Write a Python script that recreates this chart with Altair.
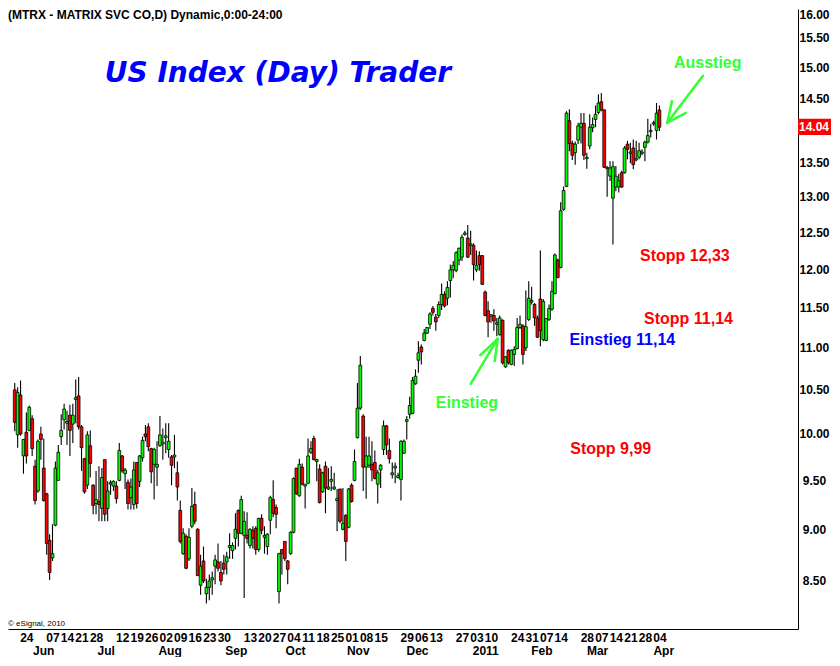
import json
import altair as alt
import pandas as pd

# ---------------- data ----------------
opens = [
    10.50, 9.99, 10.44, 9.76, 10.02, 10.04, 10.17, 9.65, 9.39, 10.00,
    9.63, 9.36, 8.89, 8.72, 9.04, 9.50, 9.97, 10.16, 10.12, 10.21,
    10.11, 10.39, 10.43, 10.08, 9.73, 9.45, 9.87, 9.45, 9.26, 9.28,
    9.21, 9.72, 9.21, 9.46, 9.44, 9.44, 9.50, 9.76, 9.57, 9.48,
    9.32, 9.25, 9.69, 9.49, 9.74, 10.00, 10.08, 9.84, 9.67, 9.64,
    9.87, 9.89, 9.96, 9.83, 9.75, 9.75, 9.58, 9.19, 8.76, 8.93,
    8.71, 9.03, 9.25, 9.00, 8.46, 8.69, 8.38, 8.44, 8.51, 8.64,
    8.68, 8.58, 8.67, 8.68, 8.82, 8.79, 8.91, 9.19, 8.96, 8.94,
    8.94, 8.84, 8.99, 9.01, 8.80, 9.11, 8.92, 8.83, 9.09, 9.30,
    9.22, 8.40, 8.80, 8.88, 8.69, 8.76, 8.97, 9.63, 9.34, 9.64,
    9.44, 9.47, 9.80, 9.95, 9.70, 9.62, 9.38, 9.65, 9.41, 9.49,
    9.41, 9.29, 9.41, 9.00, 9.14, 9.02, 9.45, 9.50, 9.96, 10.29,
    10.20, 9.64, 9.66, 9.67, 9.69, 9.46, 9.61, 9.83, 10.09, 9.82,
    9.56, 9.63, 9.53, 9.51, 9.79, 10.14, 10.22, 10.23, 10.57, 10.85,
    11.01, 11.09, 11.18, 11.29, 11.49, 11.38, 11.40, 11.54, 11.67, 11.62,
    11.85, 11.99, 11.98, 12.12, 12.16, 12.47, 12.42, 12.32, 12.32, 11.99,
    12.18, 12.18, 11.70, 11.46, 11.39, 11.40, 11.29, 11.16, 11.34, 10.77,
    10.97, 10.80, 10.92, 10.99, 11.25, 11.27, 11.00, 11.35, 11.57, 11.54,
    11.37, 11.61, 11.10, 11.09, 11.35, 11.48, 11.68, 12.12, 12.02, 12.82,
    13.15, 14.14, 13.79, 13.65, 13.84, 14.04, 14.10, 13.56, 13.75, 14.03,
    14.16, 14.27, 14.44, 14.31, 13.41, 13.30, 12.98, 13.14, 13.14, 13.35,
    13.35, 13.78, 13.64, 13.72, 13.54, 13.58, 13.64, 13.73, 13.81, 13.97,
    14.09, 13.99, 14.31,
]
highs = [
    10.58, 10.53, 10.61, 9.94, 10.24, 10.32, 10.21, 9.72, 9.94, 10.08,
    9.95, 9.37, 8.95, 9.05, 9.70, 9.88, 10.22, 10.34, 10.26, 10.33,
    10.34, 10.62, 10.65, 10.10, 9.74, 10.03, 10.04, 9.46, 9.60, 9.65,
    9.63, 9.72, 9.49, 9.50, 9.50, 9.49, 9.90, 9.77, 9.63, 9.51,
    9.52, 9.70, 9.69, 9.77, 9.97, 10.10, 10.12, 9.85, 9.85, 9.92,
    10.20, 10.06, 10.12, 10.12, 9.77, 9.99, 9.70, 9.29, 9.01, 8.95,
    9.01, 9.42, 9.38, 9.01, 8.75, 8.83, 8.52, 8.56, 8.59, 8.75,
    8.86, 8.69, 8.75, 8.78, 8.96, 8.87, 9.16, 9.20, 9.34, 9.18,
    9.17, 9.01, 9.03, 9.03, 9.11, 9.15, 9.03, 8.96, 9.34, 9.50,
    9.25, 8.77, 8.80, 8.88, 8.70, 8.98, 9.53, 9.63, 9.73, 9.68,
    9.46, 9.95, 9.92, 9.98, 9.73, 9.67, 9.59, 9.70, 9.63, 9.65,
    9.58, 9.41, 9.41, 9.42, 9.15, 9.42, 9.47, 9.83, 10.58, 10.90,
    10.22, 9.97, 9.97, 9.92, 9.82, 9.61, 9.67, 10.15, 10.10, 9.95,
    9.69, 9.69, 9.58, 9.93, 9.94, 10.20, 10.42, 10.65, 10.74, 11.08,
    11.04, 11.23, 11.25, 11.44, 11.52, 11.42, 11.58, 11.81, 11.71, 11.84,
    12.06, 12.11, 12.24, 12.29, 12.47, 12.52, 12.60, 12.52, 12.35, 12.25,
    12.24, 12.19, 11.72, 11.58, 11.42, 11.48, 11.37, 11.40, 11.35, 10.90,
    10.98, 10.98, 11.02, 11.37, 11.40, 11.29, 11.72, 11.84, 11.77, 11.56,
    11.40, 12.25, 11.61, 11.37, 11.54, 11.84, 12.21, 12.14, 12.92, 13.15,
    14.29, 14.32, 13.83, 13.82, 14.11, 14.26, 14.26, 13.65, 14.24, 14.19,
    14.38, 14.56, 14.58, 14.32, 13.45, 13.52, 13.52, 13.45, 13.33, 13.38,
    13.75, 13.83, 13.80, 13.85, 13.83, 13.80, 13.70, 13.83, 14.17, 14.09,
    14.14, 14.42, 14.38,
]
lows = [
    10.03, 9.85, 9.98, 9.57, 9.68, 10.03, 9.76, 9.25, 9.37, 9.72,
    9.28, 8.75, 8.51, 8.69, 9.03, 9.50, 9.88, 10.05, 9.88, 9.76,
    9.90, 10.12, 10.05, 9.60, 9.36, 9.41, 9.53, 9.15, 9.15, 9.08,
    9.08, 9.08, 9.08, 9.35, 9.39, 9.26, 9.49, 9.58, 9.41, 9.20,
    9.20, 9.20, 9.21, 9.43, 9.70, 9.92, 9.81, 9.47, 9.30, 9.44,
    9.86, 9.72, 9.79, 9.74, 9.45, 9.63, 9.29, 8.86, 8.75, 8.61,
    8.69, 9.01, 9.05, 8.55, 8.37, 8.48, 8.29, 8.32, 8.37, 8.47,
    8.59, 8.46, 8.56, 8.56, 8.71, 8.71, 8.80, 8.83, 8.95, 8.34,
    8.86, 8.81, 8.81, 8.75, 8.78, 8.95, 8.76, 8.75, 8.95, 9.12,
    9.01, 8.29, 8.56, 8.69, 8.47, 8.75, 8.96, 9.35, 9.33, 9.45,
    9.21, 9.46, 9.78, 9.71, 9.49, 9.26, 9.37, 9.16, 9.40, 9.39,
    9.40, 8.98, 9.06, 8.99, 8.69, 9.01, 9.27, 9.49, 9.95, 10.27,
    9.39, 9.31, 9.63, 9.49, 9.51, 9.26, 9.42, 9.77, 9.77, 9.68,
    9.52, 9.47, 9.52, 9.29, 9.78, 9.94, 10.17, 10.22, 10.56, 10.70,
    10.80, 11.08, 11.17, 11.23, 11.40, 11.21, 11.37, 11.47, 11.50, 11.53,
    11.63, 11.88, 11.96, 12.05, 12.11, 12.45, 12.15, 12.19, 11.85, 11.96,
    11.98, 11.79, 11.39, 11.13, 11.31, 11.21, 11.14, 11.15, 10.80, 10.76,
    10.80, 10.79, 10.78, 10.98, 11.23, 10.80, 10.96, 11.33, 11.54, 11.27,
    11.12, 11.02, 11.08, 11.08, 11.33, 11.46, 11.67, 11.88, 12.01, 12.80,
    13.14, 13.67, 13.54, 13.47, 13.78, 13.79, 13.54, 13.41, 13.70, 13.96,
    14.04, 14.24, 14.29, 13.42, 13.00, 13.23, 12.33, 13.08, 13.06, 13.13,
    13.34, 13.55, 13.49, 13.40, 13.52, 13.55, 13.61, 13.52, 13.79, 13.88,
    14.06, 13.85, 13.98,
]
closes = [
    10.13, 10.47, 10.00, 9.94, 9.76, 10.30, 9.84, 9.29, 9.92, 9.94,
    9.29, 8.86, 8.58, 8.76, 9.63, 9.80, 10.04, 10.28, 10.14, 10.04,
    10.21, 10.41, 10.08, 9.85, 9.38, 9.99, 9.68, 9.24, 9.30, 9.25,
    9.53, 9.15, 9.39, 9.48, 9.49, 9.31, 9.82, 9.60, 9.61, 9.26,
    9.43, 9.61, 9.26, 9.76, 9.93, 9.97, 9.86, 9.59, 9.83, 9.67,
    9.99, 9.91, 9.98, 9.92, 9.66, 9.77, 9.43, 8.88, 8.96, 8.62,
    8.92, 9.23, 9.08, 8.55, 8.64, 8.50, 8.44, 8.50, 8.53, 8.70,
    8.62, 8.50, 8.61, 8.73, 8.84, 8.84, 9.00, 8.96, 9.30, 9.08,
    8.91, 9.00, 8.91, 8.80, 9.11, 8.99, 8.94, 8.95, 9.32, 9.16,
    9.15, 8.76, 8.76, 8.71, 8.61, 8.97, 9.52, 9.36, 9.67, 9.46,
    9.46, 9.76, 9.84, 9.72, 9.72, 9.27, 9.58, 9.42, 9.43, 9.51,
    9.43, 9.31, 9.08, 9.06, 8.88, 9.41, 9.28, 9.70, 10.29, 10.79,
    9.64, 9.76, 9.76, 9.61, 9.52, 9.58, 9.66, 10.09, 9.88, 9.73,
    9.58, 9.65, 9.55, 9.92, 9.92, 10.16, 10.32, 10.61, 10.66, 10.94,
    10.95, 11.18, 11.25, 11.42, 11.44, 11.32, 11.54, 11.67, 11.52, 11.76,
    11.99, 12.05, 12.22, 12.28, 12.43, 12.49, 12.16, 12.34, 12.06, 12.05,
    12.06, 11.80, 11.40, 11.32, 11.41, 11.33, 11.31, 11.37, 10.82, 10.89,
    10.82, 10.97, 10.98, 11.25, 11.29, 10.92, 11.26, 11.62, 11.59, 11.37,
    11.13, 11.21, 11.58, 11.36, 11.49, 11.71, 12.19, 11.89, 12.80, 13.09,
    14.26, 13.79, 13.61, 13.78, 14.06, 14.10, 13.61, 13.58, 14.04, 14.08,
    14.24, 14.42, 14.31, 13.43, 13.43, 13.42, 13.44, 13.30, 13.23, 13.14,
    13.72, 13.70, 13.66, 13.47, 13.56, 13.68, 13.66, 13.81, 13.91, 13.99,
    14.11, 14.26, 14.04,
]
first_index = -4  # candle index; 0 = 24 May 2010

# bottom axis: trading-day index of labelled Mondays and their labels
day_ticks = [0, 9, 14, 19, 24, 33, 38, 43, 48, 53, 58, 63, 68, 77, 82, 87,
             92, 97, 102, 107, 112, 117, 122, 131, 136, 141, 150, 155, 160,
             169, 174, 179, 184, 193, 198, 203, 208, 213, 218]
day_labels = ["24", "07", "14", "21", "28", "12", "19", "26", "02", "09", "16",
              "23", "30", "13", "20", "27", "04", "11", "18", "25", "01", "08",
              "15", "29", "06", "13", "27", "03", "10", "24", "31", "07", "14",
              "28", "07", "14", "21", "28", "04"]
month_names = ["Jun", "Jul", "Aug", "Sep", "Oct", "Nov", "Dec", "2011", "Feb", "Mar", "Apr"]
month_pos = [6.0, 27.5, 49.5, 72.3, 92.7, 114.3, 134.7, 158.2, 177.5, 196.7, 219.5]

price_ticks = [8.5, 9.0, 9.5, 10.0, 10.5, 11.0, 11.5, 12.0, 12.5, 13.0, 13.5,
               14.5, 15.0, 15.5, 16.0]
last_price = 14.04

# annotations
ann_text = ["Ausstieg", "Einstieg", "Stopp 12,33", "Stopp 11,14", "Einstieg 11,14", "Stopp 9,99"]
ann_x = [223, 141, 211.3, 212.7, 187, 187.3]
ann_y = [15.08, 10.35, 12.17, 11.35, 11.09, 9.83]
ann_color = ["#33ff33", "#33ff33", "#ff0000", "#ff0000", "#0000ff", "#ff0000"]

arrow_x1 = [233, 220.7, 220.7, 153, 162.3, 162.3]
arrow_y1 = [14.86, 14.11, 14.11, 10.57, 11.11, 11.11]
arrow_x2 = [220.7, 222.3, 227, 162.3, 156.3, 161.3]
arrow_y2 = [14.11, 14.45, 14.26, 11.11, 10.91, 10.84]

title_text = "US Index (Day) Trader"
title_pos = (27.0, 14.89)
header_text = "(MTRX - MATRIX SVC CO,D) Dynamic,0:00-24:00"
copyright_text = "\u00a9 eSignal, 2010"

# ---------------- chart ----------------
W, H = 790, 620
FONT = "Liberation Sans"
GREEN = "#00ff00"
RED = "#ff0000"

n = len(opens)
df = pd.DataFrame({
    "i": list(range(first_index, first_index + n)),
    "open": opens, "high": highs, "low": lows, "close": closes,
})
df["dir"] = ["up" if c >= o else "down" for o, c in zip(opens, closes)]

xs = alt.Scale(domain=[-4.6, 264], nice=False, zero=False)
ys = alt.Scale(type="log", domain=[8.06, 16.0], nice=False)

label_expr = json.dumps(day_labels) + "[indexof(" + json.dumps(day_ticks) + ", datum.value)]"

x_axis = alt.Axis(values=day_ticks, labelExpr=label_expr, title=None, ticks=False,
                  tickSize=0, grid=False, domainColor="black", domainWidth=1,
                  labelFont=FONT, labelFontWeight="bold", labelFontSize=12,
                  labelColor="black", labelPadding=3, labelOverlap=False,
                  labelFlush=False, labelBound=False)
y_axis = alt.Axis(orient="right", values=price_ticks, format=".2f", title=None,
                  ticks=False, tickSize=0, grid=False, domainColor="black",
                  domainWidth=1, labelFont=FONT, labelFontWeight="bold",
                  labelFontSize=12, labelColor="black", labelAlign="center",
                  labelPadding=16, labelOverlap=False, labelFlush=False,
                  labelBaseline={"condition": {"test": "datum.value >= 16", "value": "top"},
                                 "value": "middle"})


def X(field):
    return alt.X(field, scale=xs, axis=x_axis)


def Y(field):
    return alt.Y(field, scale=ys, axis=y_axis)


base = alt.Chart(df)

wicks = base.mark_rule(color="black", strokeWidth=1.1).encode(
    x=X("i:Q"), y=Y("low:Q"), y2="high:Q",
)
bodies = base.mark_bar(size=2.8, stroke="black", strokeWidth=0.8).encode(
    x=X("i:Q"), y=Y("open:Q"), y2="close:Q",
    color=alt.Color("dir:N", scale=alt.Scale(domain=["up", "down"], range=[GREEN, RED]), legend=None),
)

month_df = pd.DataFrame({"m": month_names, "pos": month_pos})
months = alt.Chart(month_df).mark_text(
    font=FONT, fontWeight="bold", fontSize=12, color="black", baseline="top", align="center"
).encode(x=X("pos:Q"), y=alt.value(H + 17), text="m:N")

ann_df = pd.DataFrame({"t": ann_text, "x": ann_x, "y": ann_y, "c": ann_color})
annotations = alt.Chart(ann_df).mark_text(
    font=FONT, fontWeight="bold", fontSize=16, align="left", baseline="middle"
).encode(x=X("x:Q"), y=Y("y:Q"), text="t:N", color=alt.Color("c:N", scale=None))

arrow_df = pd.DataFrame({"x1": arrow_x1, "y1": arrow_y1, "x2": arrow_x2, "y2": arrow_y2})
arrows = alt.Chart(arrow_df).mark_rule(color="#33ff33", strokeWidth=2.5, strokeCap="round").encode(
    x=X("x1:Q"), y=Y("y1:Q"), x2="x2:Q", y2="y2:Q",
)

title_df = pd.DataFrame({"t": [title_text], "x": [title_pos[0]], "y": [title_pos[1]]})
title = alt.Chart(title_df).mark_text(
    font="DejaVu Sans", fontWeight="bold", fontStyle="italic", fontSize=28,
    color="#0000ff", align="left", baseline="middle"
).encode(x=X("x:Q"), y=Y("y:Q"), text="t:N")

box_df = pd.DataFrame({"top": [14.17], "bottom": [13.92], "label": [f"{last_price:.2f}"], "p": [last_price]})
last_box = alt.Chart(box_df).mark_rect(color=RED).encode(
    x=alt.value(W), x2=alt.value(W + 33), y=Y("top:Q"), y2="bottom:Q",
)
last_text = alt.Chart(box_df).mark_text(
    font=FONT, fontWeight="bold", fontSize=12, color="white", align="center", baseline="middle"
).encode(x=alt.value(W + 16), y=Y("p:Q"), text="label:N")

header = alt.Chart(pd.DataFrame({"t": [header_text]})).mark_text(
    font=FONT, fontWeight="bold", fontSize=12, color="black", align="left", baseline="top"
).encode(x=alt.value(0), y=alt.value(1), text="t:N")

copyright_mark = alt.Chart(pd.DataFrame({"t": [copyright_text]})).mark_text(
    font=FONT, fontSize=8, color="black", align="left", baseline="middle"
).encode(x=alt.value(0), y=alt.value(H - 5), text="t:N")

chart = alt.layer(
    wicks, bodies, months, arrows, annotations, title, last_box, last_text, header, copyright_mark
).properties(
    width=W, height=H, background="white",
    padding={"left": 0, "top": 0, "right": 0, "bottom": 0},
).configure_view(stroke=None)

chart.save("out.html", embed_options={"renderer": "svg", "actions": False})
